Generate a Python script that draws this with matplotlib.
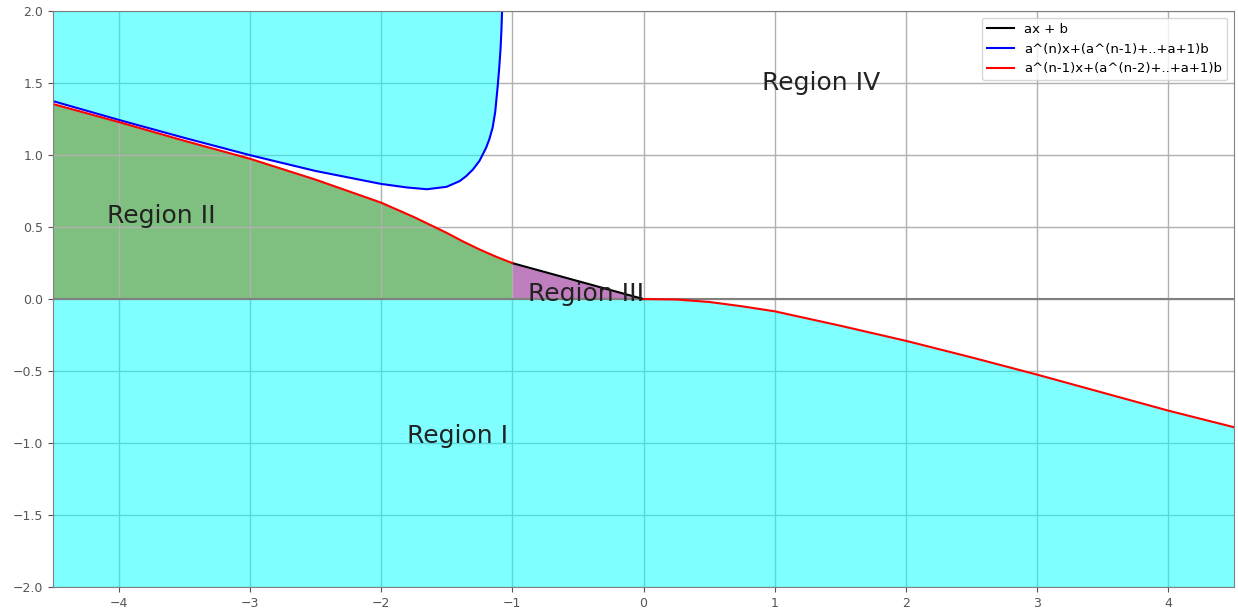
import numpy as np
import matplotlib
matplotlib.use("Agg")
import matplotlib.pyplot as plt

# boundary curves read in the (x, y) plane
red_left_x = [-4.5, -4.0, -3.5, -3.0, -2.5, -2.0, -1.75, -1.5, -1.375, -1.25, -1.125, -1.0]
red_left_y = [1.355, 1.23, 1.10, 0.975, 0.83, 0.67, 0.57, 0.46, 0.40, 0.345, 0.295, 0.25]

red_right_x = [0.0, 0.25, 0.5, 0.75, 1.0, 1.5, 2.0, 2.5, 3.0, 3.5, 4.0, 4.5]
red_right_y = [0.0, -0.003, -0.02, -0.05, -0.085, -0.185, -0.29, -0.405, -0.525, -0.65, -0.775, -0.89]

blue_x = [-4.5, -4.0, -3.5, -3.0, -2.5, -2.0, -1.8, -1.65, -1.5, -1.4, -1.35, -1.3,
          -1.25, -1.2, -1.175, -1.15, -1.13, -1.11, -1.10, -1.09, -1.083, -1.077]
blue_y = [1.375, 1.245, 1.12, 1.0, 0.89, 0.80, 0.775, 0.763, 0.78, 0.82, 0.855, 0.90,
          0.96, 1.05, 1.11, 1.19, 1.30, 1.49, 1.60, 1.73, 1.86, 2.02]

black_x = [-1.0, 0.0]
black_y = [0.25, 0.0]

labels = ["ax + b", "a^(n)x+(a^(n-1)+..+a+1)b", "a^(n-1)x+(a^(n-2)+..+a+1)b"]
region_names = ["Region I", "Region II", "Region III", "Region IV"]
region_pos = [(-1.8, -1.0), (-4.09, 0.53), (-0.88, -0.01), (0.9, 1.45)]

fig = plt.figure(figsize=(12.38, 6.12), dpi=100)
ax = fig.add_axes([0.0428, 0.0408, 0.954, 0.941])

ax.set_xlim(-4.5, 4.5)
ax.set_ylim(-2, 2)
ax.grid(True, color="#b0b0b0", linewidth=1.0)

# region I (below), region II (green), region III (purple), upper cyan pocket
low_x = np.concatenate([[-4.5], red_right_x])
low_y = np.concatenate([[0.0], red_right_y])
ax.fill_between(low_x, -2, low_y, color="cyan", alpha=0.5, linewidth=0, zorder=1.6)
ax.fill_between(red_left_x, 0, red_left_y, color="green", alpha=0.5, linewidth=0, zorder=1)
ax.fill_between(black_x, 0, black_y, color="purple", alpha=0.5, linewidth=0, zorder=1)
ax.fill_between(blue_x, blue_y, 2, color="cyan", alpha=0.5, linewidth=0, zorder=1.6)

ax.axhline(0, color="gray", linewidth=1.5, zorder=2)

ax.plot(black_x, black_y, color="black", linewidth=1.5, label=labels[0], zorder=3)
ax.plot(blue_x, blue_y, color="blue", linewidth=1.5, label=labels[1], zorder=3)
ax.plot(red_left_x, red_left_y, color="red", linewidth=1.5, label=labels[2], zorder=3)
ax.plot(red_right_x, red_right_y, color="red", linewidth=1.5, zorder=3)

for name, (tx, ty) in zip(region_names, region_pos):
    ax.text(tx, ty, name, fontsize=18, color="#222222", zorder=4)

for s in ax.spines.values():
    s.set_color("gray")
    s.set_zorder(5)
ax.tick_params(colors="#555555", labelsize=9)
ax.legend(loc="upper right", fontsize=9.5)

fig.savefig("out.png", dpi=100)
